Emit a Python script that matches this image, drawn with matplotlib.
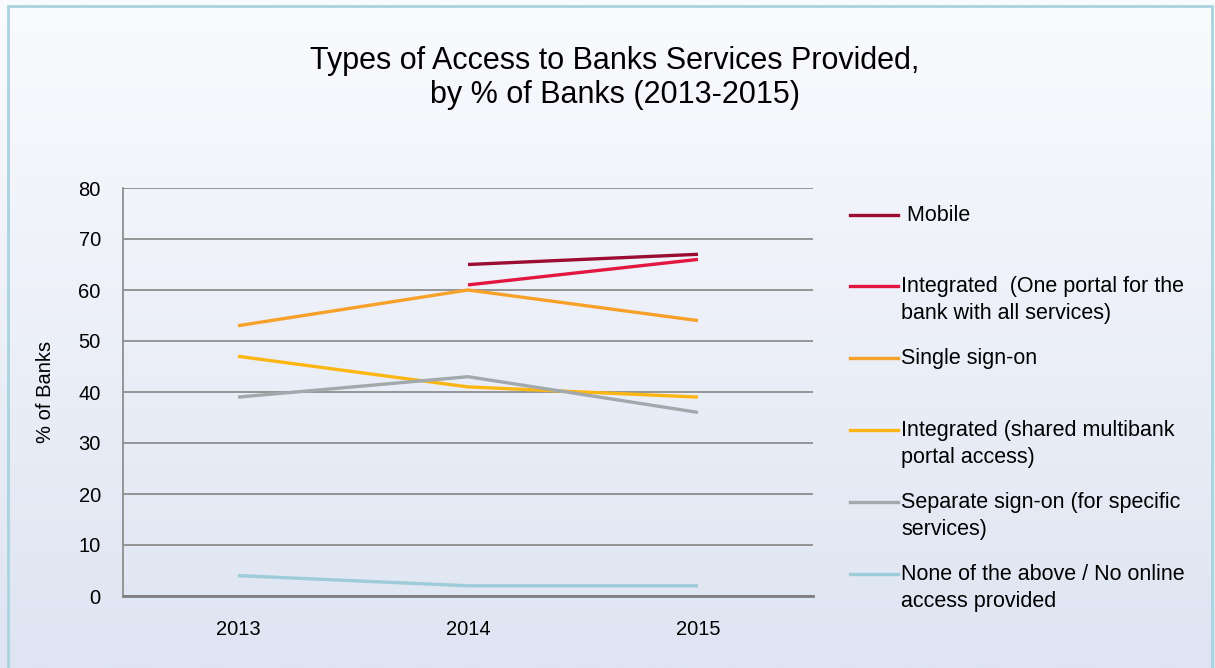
import matplotlib.pyplot as plt
import numpy as np
from matplotlib.lines import Line2D
from matplotlib.patches import Rectangle

plt.rcParams['font.family'] = ['Liberation Sans', 'DejaVu Sans']

years = ["2013", "2014", "2015"]
labels = [
    " Mobile",
    "Integrated  (One portal for the\nbank with all services)",
    "Single sign-on",
    "Integrated (shared multibank\nportal access)",
    "Separate sign-on (for specific\nservices)",
    "None of the above / No online\naccess provided",
]
mobile = [np.nan, 65, 67]
integrated_one = [np.nan, 61, 66]
single_sign = [53, 60, 54]
integrated_shared = [47, 41, 39]
separate_sign = [39, 43, 36]
none_above = [4, 2, 2]
series = [mobile, integrated_one, single_sign, integrated_shared, separate_sign, none_above]
colors = ["#9b0c33", "#e2173f", "#f7a02a", "#fbb614", "#a2a9ad", "#9dcbd8"]

W, H = 1215, 668
fig = plt.figure(figsize=(W / 100, H / 100), dpi=100)

# background gradient + border
bg = fig.add_axes([0, 0, 1, 1], zorder=-10)
grad = np.linspace(0, 1, 256).reshape(-1, 1)
top = np.array([250, 251, 254]) / 255
bot = np.array([222, 228, 242]) / 255
img = top + (bot - top) * grad[:, :, None]
bg.imshow(img, aspect="auto", extent=[0, 1, 0, 1], origin="upper")
bg.add_patch(Rectangle((8 / W, -0.01), 1204 / W, 1 - 6 / H + 0.01, fill=False,
                       edgecolor="#a9d3df", linewidth=2))
bg.set_xlim(0, 1)
bg.set_ylim(0, 1)
bg.axis("off")

ax = fig.add_axes([123 / W, 1 - 596 / H, 690 / W, 408 / H])
ax.patch.set_alpha(0)
x = np.arange(len(years))
for vals, c in zip(series, colors):
    ax.plot(x, vals, color=c, linewidth=2.4, solid_capstyle="butt")

ax.set_xlim(-0.5, 2.5)
ax.set_ylim(0, 80)
ax.set_yticks(range(0, 81, 10))
ax.set_xticks(x)
ax.set_xticklabels(years)
ax.yaxis.grid(True, color="#8e8e8e", linewidth=1.3)
ax.set_axisbelow(True)
for s in ["top", "right"]:
    ax.spines[s].set_visible(False)
ax.spines["left"].set_color("#8e8e8e")
ax.spines["left"].set_linewidth(1.3)
ax.spines["bottom"].set_color("#7f7f7f")
ax.spines["bottom"].set_linewidth(2)
ax.tick_params(length=0, labelsize=14.5)
ax.tick_params(axis="y", pad=16)
ax.tick_params(axis="x", pad=17)
ax.set_ylabel("% of Banks", fontsize=14.5)
ax.yaxis.set_label_coords((55 - 123) / 690, 0.5)

fig.text(0.506, 1 - 78 / H, "Types of Access to Banks Services Provided,\nby % of Banks (2013-2015)",
         ha="center", va="center", fontsize=22, linespacing=1.2)

# legend
leg_y = [215, 286, 358, 430, 502, 574]
for yy, lab, c in zip(leg_y, labels, colors):
    fy = 1 - yy / H
    fig.add_artist(Line2D([850 / W, 898 / W], [fy, fy], color=c, linewidth=2.4))
    fig.text(901 / W, fy + 10 / H, lab, ha="left", va="top", fontsize=15.5,
             linespacing=1.35)

fig.savefig("out.png", dpi=100)
